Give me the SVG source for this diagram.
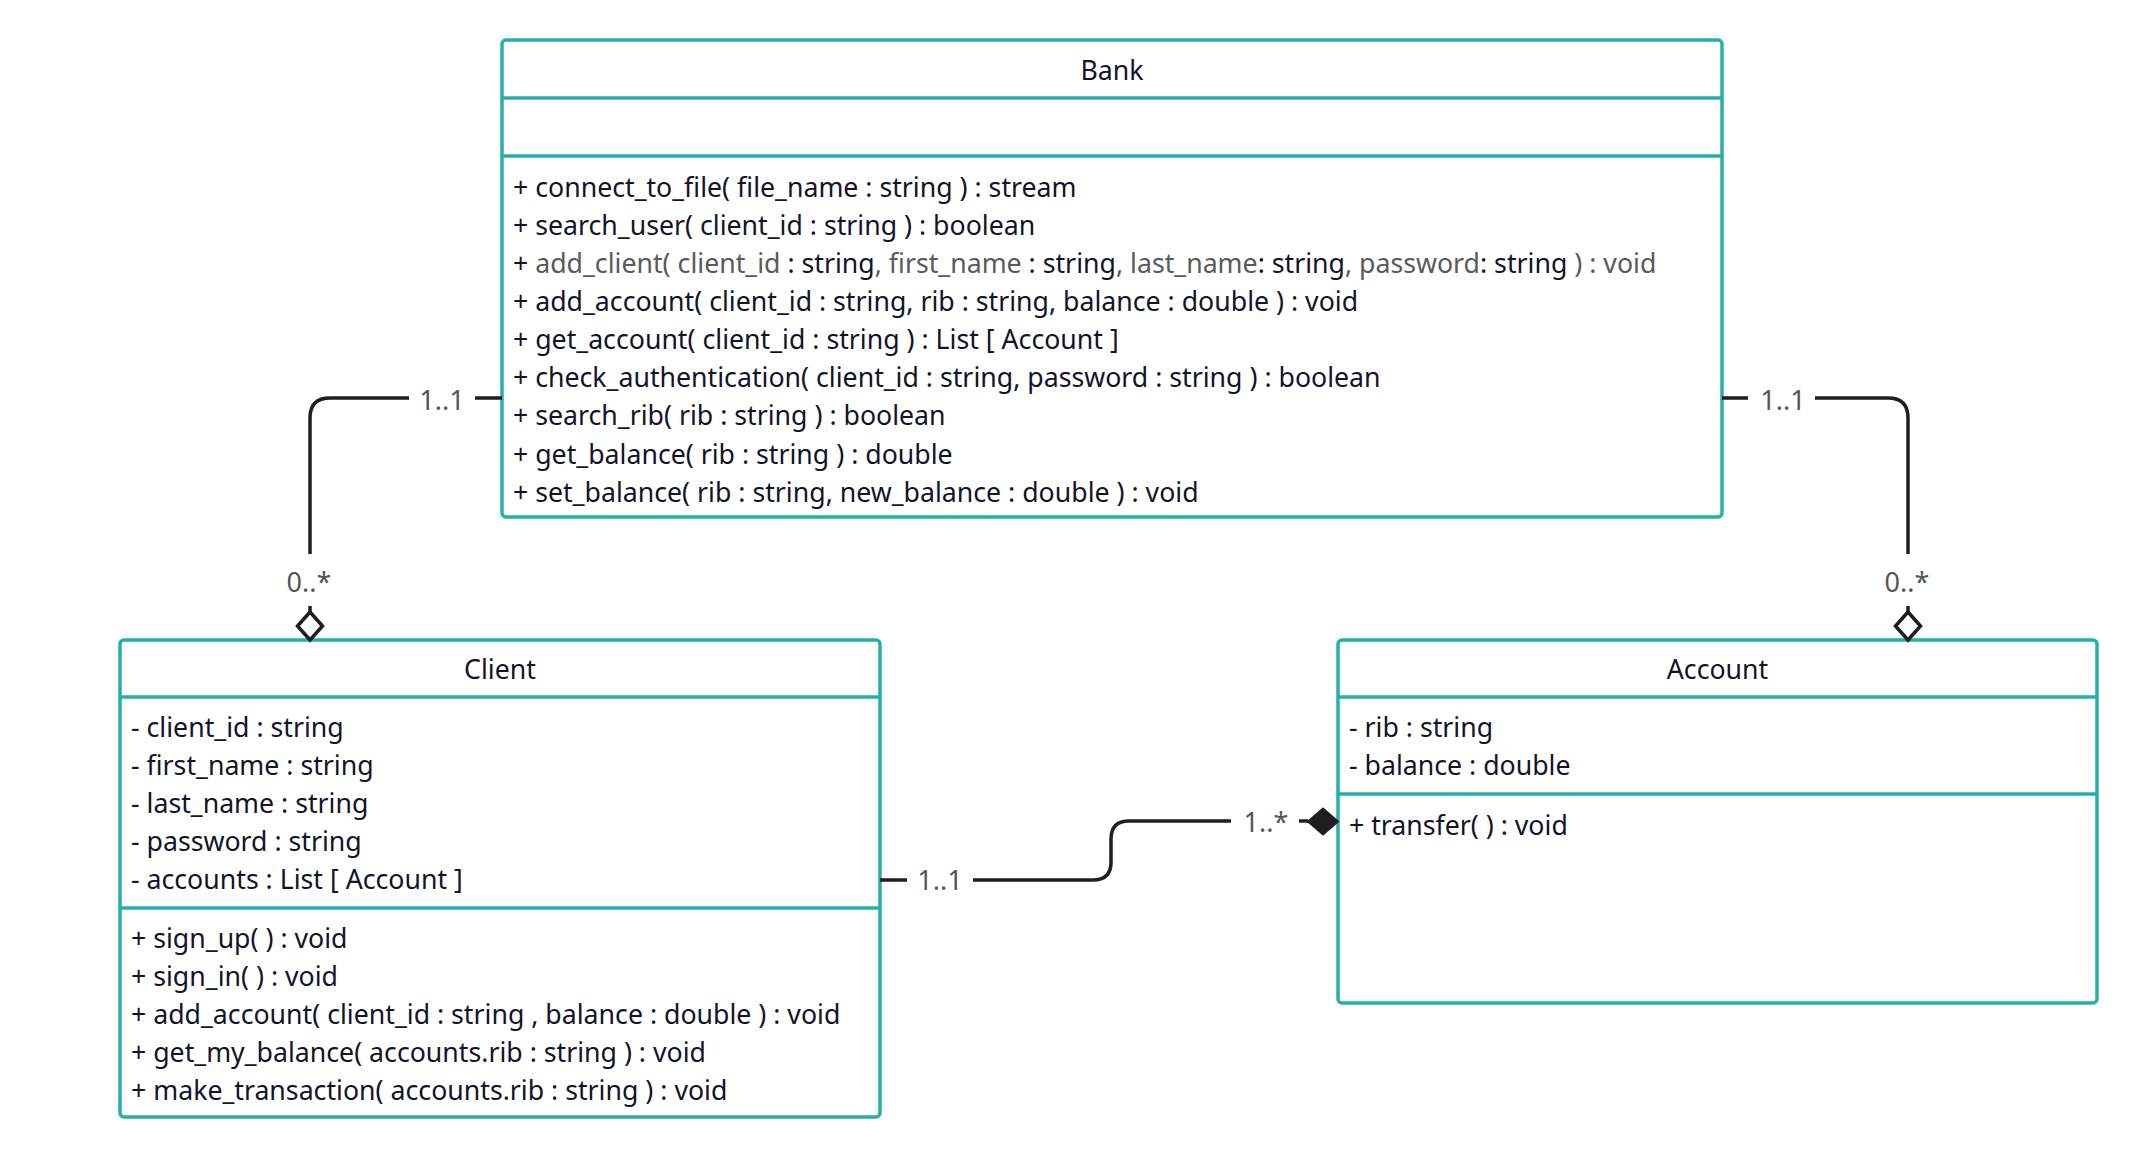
<svg xmlns="http://www.w3.org/2000/svg" width="2139" height="1158" viewBox="0 0 2139 1158">
<style>
.box{fill:#fff;stroke:#27afaa;stroke-width:3.5}
.div{stroke:#27afaa;stroke-width:3.5}
.t{font-family:"Noto Sans","Open Sans",sans-serif;font-size:26.7px;fill:#131329}
.ti{text-anchor:middle}
.g{fill:#5a5a5a}
.ln{fill:none;stroke:#1e1e1e;stroke-width:3.5}
.m{font-family:"Noto Sans","Open Sans",sans-serif;font-size:27px;fill:#555;text-anchor:middle}
.hd{fill:#fff;stroke:#1e1e1e;stroke-width:3.5}
.fd{fill:#1e1e1e;stroke:#1e1e1e;stroke-width:2}
</style>
<rect width="2139" height="1158" fill="#fff"/>
<g id="bank">
<rect class="box" x="502" y="40" width="1220" height="477" rx="4"/>
<line class="div" x1="502" y1="98" x2="1722" y2="98"/>
<line class="div" x1="502" y1="156" x2="1722" y2="156"/>
<text class="t ti" x="1112" y="80">Bank</text>
<text class="t" x="513" y="196.5">+ connect_to_file( file_name : string ) : stream</text>
<text class="t" x="513" y="234.6">+ search_user( client_id : string ) : boolean</text>
<text class="t" x="513" y="272.8">+ <tspan class="g">add_client( client_id </tspan>: string<tspan class="g">, first_name </tspan>: string<tspan class="g">, last_name</tspan>: string<tspan class="g">, password</tspan>: string<tspan class="g"> ) : void</tspan></text>
<text class="t" x="513" y="310.9">+ add_account( client_id : string, rib : string, balance : double ) : void</text>
<text class="t" x="513" y="349.1">+ get_account( client_id : string ) : List [ Account ]</text>
<text class="t" x="513" y="387.2">+ check_authentication( client_id : string, password : string ) : boolean</text>
<text class="t" x="513" y="425.4">+ search_rib( rib : string ) : boolean</text>
<text class="t" x="513" y="463.5">+ get_balance( rib : string ) : double</text>
<text class="t" x="513" y="501.5">+ set_balance( rib : string, new_balance : double ) : void</text>
</g>
<g id="client">
<rect class="box" x="120" y="640" width="760" height="477" rx="4"/>
<line class="div" x1="120" y1="697" x2="880" y2="697"/>
<line class="div" x1="120" y1="908" x2="880" y2="908"/>
<text class="t ti" x="500" y="679">Client</text>
<text class="t" x="131" y="737">- client_id : string</text>
<text class="t" x="131" y="775">- first_name : string</text>
<text class="t" x="131" y="813">- last_name : string</text>
<text class="t" x="131" y="851">- password : string</text>
<text class="t" x="131" y="889">- accounts : List [ Account ]</text>
<text class="t" x="131" y="948">+ sign_up( ) : void</text>
<text class="t" x="131" y="986">+ sign_in( ) : void</text>
<text class="t" x="131" y="1024">+ add_account( client_id : string , balance : double ) : void</text>
<text class="t" x="131" y="1062">+ get_my_balance( accounts.rib : string ) : void</text>
<text class="t" x="131" y="1100">+ make_transaction( accounts.rib : string ) : void</text>
</g>
<g id="account">
<rect class="box" x="1338" y="640" width="759" height="363" rx="4"/>
<line class="div" x1="1338" y1="697" x2="2097" y2="697"/>
<line class="div" x1="1338" y1="794" x2="2097" y2="794"/>
<text class="t ti" x="1717.5" y="679">Account</text>
<text class="t" x="1349" y="737">- rib : string</text>
<text class="t" x="1349" y="775">- balance : double</text>
<text class="t" x="1349" y="834.5">+ transfer( ) : void</text>
</g>
<g id="connectors">
<g id="bank-client">
<path class="ln" d="M502 398 H475"/>
<path class="ln" d="M409 398 H330 Q310 398 310 418 V554"/>
<path class="ln" d="M310 606 V612"/>
<polygon class="hd" points="310,612 322.5,626 310,640 297.5,626"/>
<text class="m" x="442" y="410">1..1</text>
<text class="m" x="309" y="592">0..*</text>
</g>
<g id="bank-account">
<path class="ln" d="M1722 398 H1748"/>
<path class="ln" d="M1815 398 H1888 Q1908 398 1908 418 V554"/>
<path class="ln" d="M1908 606 V612"/>
<polygon class="hd" points="1908,612 1920.5,626 1908,640 1895.5,626"/>
<text class="m" x="1783" y="410">1..1</text>
<text class="m" x="1907" y="592">0..*</text>
</g>
<g id="client-account">
<path class="ln" d="M880 880 H907"/>
<path class="ln" d="M973 880 H1093 Q1111 880 1111 862 V839 Q1111 821 1129 821 H1231"/>
<path class="ln" d="M1299 821 H1308"/>
<polygon class="fd" points="1308,821.5 1323,808.5 1338,821.5 1323,834.5"/>
<text class="m" x="940" y="890">1..1</text>
<text class="m" x="1266" y="832">1..*</text>
</g>
</g>
</svg>
